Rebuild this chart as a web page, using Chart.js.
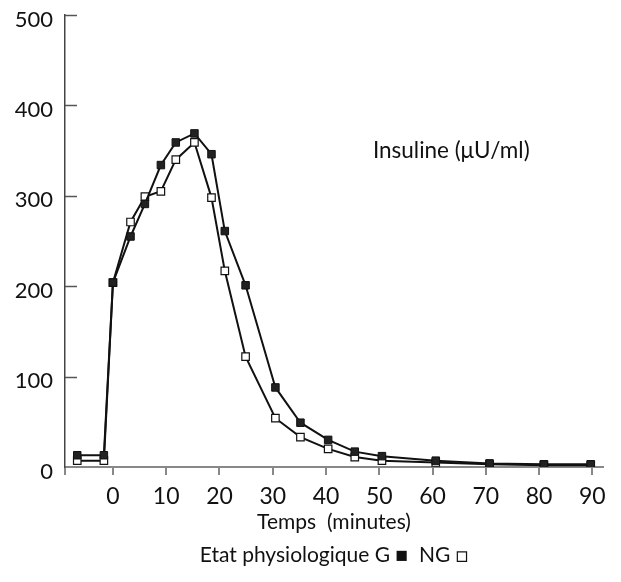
<!DOCTYPE html>
<html><head><meta charset="utf-8">
<script src="https://cdn.jsdelivr.net/npm/chart.js@4/dist/chart.umd.min.js"></script>
<style>html,body{margin:0;padding:0;background:#fff}</style>
</head><body>
<canvas id="c" width="621" height="582"></canvas>
<script>
const times = [-6.7, -1.7, 0, 3.3, 6, 9, 11.8, 15.3, 18.5, 21, 24.9, 30.5, 35.2, 40.4, 45.4, 50.5, 60.6, 70.7, 80.9, 89.7];
const insulinG = [13, 13, 204, 255, 291, 334, 359, 369, 346, 261, 201, 88, 49, 30, 17, 12, 7, 4, 3, 3];
const insulinNG = [7, 7, 204, 271, 299, 305, 340, 359, 298, 217, 122, 54, 33, 20, 11, 7, 5, 3, 2, 2];
const xTicks = [0, 10, 20, 30, 40, 50, 60, 70, 80, 90];
const yTicks = [0, 100, 200, 300, 400, 500];
const seriesLabel = 'Insuline (\u03bcU/ml)';
const xTitle = ['Temps  (minutes)', 'Etat physiologique G \u25a0  NG \u25a1'];

Chart.defaults.font.family = 'Lato';
Chart.defaults.color = '#111';

const toPts = ys => times.map((t, i) => ({x: t, y: ys[i]}));

const extras = {
  id: 'extras',
  afterDraw(chart) {
    const {ctx, chartArea, scales: {x, y}} = chart;
    ctx.save();
    ctx.strokeStyle = '#555';
    ctx.lineWidth = 1.5;
    yTicks.forEach(v => {
      if (v === 0) return;
      const py = Math.round(y.getPixelForValue(v)) + 0.5;
      ctx.beginPath();
      ctx.moveTo(chartArea.left, py);
      ctx.lineTo(chartArea.left + 12, py);
      ctx.stroke();
    });
    ctx.fillStyle = '#111';
    ctx.font = '22.5px Lato';
    ctx.textAlign = 'left';
    ctx.textBaseline = 'middle';
    ctx.fillText(seriesLabel, x.getPixelForValue(48.8), y.getPixelForValue(350));
    ctx.restore();
  }
};

new Chart(document.getElementById('c'), {
  type: 'line',
  data: {
    datasets: [
      {label: 'G', data: toPts(insulinG), order: 0, borderColor: '#111', borderWidth: 2,
       pointStyle: 'rect', pointRadius: 5.3, pointBackgroundColor: '#222', pointBorderColor: '#111', pointBorderWidth: 1, tension: 0},
      {label: 'NG', data: toPts(insulinNG), order: 1, borderColor: '#111', borderWidth: 2,
       pointStyle: 'rect', pointRadius: 5.3, pointBackgroundColor: '#fff', pointBorderColor: '#111', pointBorderWidth: 1.2, tension: 0}
    ]
  },
  options: {
    responsive: false,
    animation: false,
    devicePixelRatio: 1,
    layout: {padding: {top: 15, right: 18, left: 0, bottom: 0}},
    plugins: {legend: {display: false}, tooltip: {enabled: false}},
    scales: {
      x: {
        type: 'linear', min: -9, max: 92,
        afterBuildTicks: s => { s.ticks = [-9, ...xTicks].map(v => ({value: v})); },
        afterFit: s => { s.height = 115; s.paddingLeft = 0; s.paddingRight = 0; },
        ticks: {autoSkip: false, maxRotation: 0, padding: 8, font: {size: 23}, color: '#111',
                callback: v => v === -9 ? '' : v},
        grid: {drawOnChartArea: false, drawTicks: true, tickLength: 8, color: '#888', lineWidth: 2},
        border: {display: true, color: '#888', width: 2},
        title: {display: true, text: xTitle, font: {size: 21, lineHeight: 1.57}, color: '#111',
                padding: {top: 4, bottom: 10}}
      },
      y: {
        type: 'linear', min: 0, max: 500,
        afterBuildTicks: s => { s.ticks = yTicks.map(v => ({value: v})); },
        afterFit: s => { s.width = 65; s.paddingTop = 0; s.paddingBottom = 0; },
        ticks: {padding: 12, labelOffset: 4.5, font: {size: 22}, color: '#111'},
        grid: {display: false, drawTicks: false},
        border: {display: true, color: '#444', width: 1.5}
      }
    }
  },
  plugins: [extras]
});
</script>
</body></html>
